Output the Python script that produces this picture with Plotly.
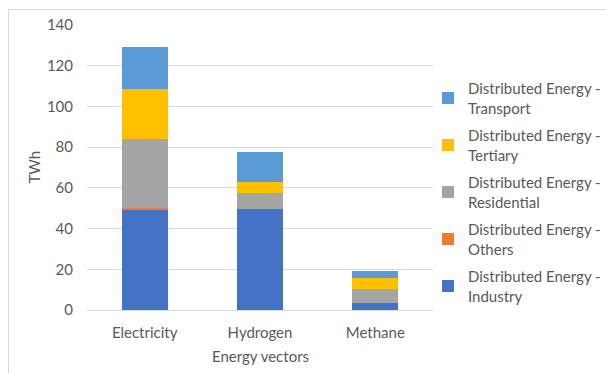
import plotly.graph_objects as go

# Energy demand by vector, split by end-use sector (TWh)
vectors = ["Electricity", "Hydrogen", "Methane"]
industry = [49.0, 49.6, 3.6]
others = [1.0, 0.0, 0.0]
residential = [34.2, 7.7, 6.7]
tertiary = [24.5, 5.6, 5.4]
transport = [20.6, 14.5, 3.6]

series = [
    ("Distributed Energy -<br>Industry", industry, "#4472C4"),
    ("Distributed Energy -<br>Others", others, "#ED7D31"),
    ("Distributed Energy -<br>Residential", residential, "#A5A5A5"),
    ("Distributed Energy -<br>Tertiary", tertiary, "#FFC000"),
    ("Distributed Energy -<br>Transport", transport, "#5B9BD5"),
]

FONT = "Lato"
FS = 15
TXT = "#595959"
GRID = "#D9D9D9"

fig = go.Figure()
for i, (name, vals, color) in enumerate(series):
    fig.add_trace(go.Bar(
        x=vectors, y=vals, name=name, legendgroup=name,
        legendrank=100 - i,
        marker=dict(color=color, line=dict(width=0)),
    ))

W, H = 606, 373
L, R, T, B = 87, 173, 25, 63
pw, ph = W - L - R, H - T - B


def px_x(p):
    return (p - L) / pw


def px_y(p):
    return (H - B - p) / ph


fig.update_layout(
    width=W, height=H,
    margin=dict(l=L, r=R, t=T, b=B, autoexpand=False),
    barmode="stack", bargap=0.6,
    plot_bgcolor="white", paper_bgcolor="white",
    font=dict(family=FONT, size=FS, color=TXT),
    showlegend=True,
    legend=dict(
        traceorder="grouped", tracegroupgap=5,
        x=px_x(428), xanchor="left", y=px_y(72), yanchor="top",
        font=dict(family=FONT, size=FS, color=TXT),
        bgcolor="rgba(0,0,0,0)",
    ),
    xaxis=dict(
        showgrid=False, showline=False, ticks="",
        tickfont=dict(family=FONT, size=FS, color=TXT),
        ticklabelstandoff=12,
    ),
    yaxis=dict(
        range=[0, 140], dtick=20, showgrid=True, gridcolor=GRID, gridwidth=1,
        zeroline=True, zerolinecolor=GRID, zerolinewidth=1,
        showline=False, ticks="",
        tickfont=dict(family=FONT, size=FS, color=TXT),
        ticklabelstandoff=13,
    ),
    annotations=[
        dict(text="TWh", x=px_x(33), y=0.5, xref="paper", yref="paper",
             textangle=-90, showarrow=False, xanchor="center", yanchor="middle",
             font=dict(family=FONT, size=FS, color=TXT)),
        dict(text="Energy vectors", x=0.5, y=px_y(356), xref="paper", yref="paper",
             showarrow=False, xanchor="center", yanchor="middle",
             font=dict(family=FONT, size=FS, color=TXT)),
    ],
    shapes=[
        dict(type="rect", xref="paper", yref="paper",
             x0=px_x(8.5), x1=px_x(640), y0=px_y(400), y1=px_y(9.5),
             line=dict(color=GRID, width=1), fillcolor="rgba(0,0,0,0)", layer="below"),
    ],
)

fig.write_html("out.html")
